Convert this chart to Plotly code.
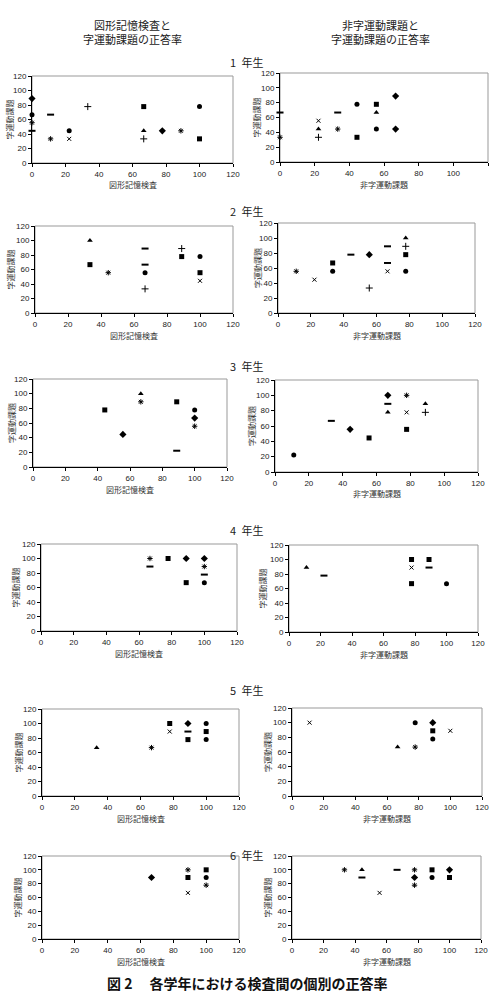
import plotly.graph_objects as go

W, H = 494, 1001

# ---- data: x = test score, y = 字運動課題 score, s = marker series label ----
g1_fig_x = [0, 0, 0, 0, 11.1, 11.1, 22.2, 22.2, 33.3, 66.7, 66.7, 66.7, 77.8, 88.9, 100, 100]
g1_fig_y = [88.9, 66.7, 55.6, 44.4, 66.7, 33.3, 44.4, 33.3, 77.8, 77.8, 44.4, 33.3, 44.4, 44.4, 77.8, 33.3]
g1_fig_s = ["◆", "●", "＊", "－", "－", "＊", "●", "×", "+", "■", "▲", "+", "◆", "＊", "●", "■"]

g1_non_x = [0, 0, 22.2, 22.2, 22.2, 33.3, 33.3, 44.4, 44.4, 55.6, 55.6, 55.6, 66.7, 66.7]
g1_non_y = [66.7, 33.3, 55.6, 44.4, 33.3, 66.7, 44.4, 77.8, 33.3, 77.8, 66.7, 44.4, 88.9, 44.4]
g1_non_s = ["－", "＊", "×", "▲", "+", "－", "＊", "●", "■", "■", "▲", "●", "◆", "◆"]

g2_fig_x = [33.3, 33.3, 44.4, 66.7, 66.7, 66.7, 66.7, 88.9, 88.9, 100, 100, 100]
g2_fig_y = [100, 66.7, 55.6, 88.9, 66.7, 55.6, 33.3, 88.9, 77.8, 77.8, 55.6, 44.4]
g2_fig_s = ["▲", "■", "＊", "－", "－", "●", "+", "+", "■", "●", "■", "×"]

g2_non_x = [11.1, 22.2, 33.3, 33.3, 44.4, 55.6, 55.6, 66.7, 66.7, 66.7, 77.8, 77.8, 77.8, 77.8]
g2_non_y = [55.6, 44.4, 66.7, 55.6, 77.8, 77.8, 33.3, 88.9, 66.7, 55.6, 100, 88.9, 77.8, 55.6]
g2_non_s = ["＊", "×", "■", "●", "－", "◆", "+", "－", "－", "×", "▲", "+", "■", "●"]

g3_fig_x = [44.4, 55.6, 66.7, 66.7, 88.9, 88.9, 100, 100, 100]
g3_fig_y = [77.8, 44.4, 100, 88.9, 88.9, 22.2, 77.8, 66.7, 55.6]
g3_fig_s = ["■", "◆", "▲", "＊", "■", "－", "●", "◆", "＊"]

g3_non_x = [11.1, 33.3, 44.4, 55.6, 66.7, 66.7, 66.7, 77.8, 77.8, 77.8, 88.9, 88.9]
g3_non_y = [22.2, 66.7, 55.6, 44.4, 100, 88.9, 77.8, 100, 77.8, 55.6, 88.9, 77.8]
g3_non_s = ["●", "－", "◆", "■", "◆", "－", "▲", "＊", "×", "■", "▲", "+"]

g4_fig_x = [66.7, 66.7, 77.8, 88.9, 88.9, 100, 100, 100, 100]
g4_fig_y = [100, 88.9, 100, 100, 66.7, 100, 88.9, 77.8, 66.7]
g4_fig_s = ["＊", "－", "■", "◆", "■", "◆", "＊", "－", "●"]

g4_non_x = [11.1, 22.2, 77.8, 77.8, 77.8, 88.9, 88.9, 100]
g4_non_y = [88.9, 77.8, 100, 88.9, 66.7, 100, 88.9, 66.7]
g4_non_s = ["▲", "－", "■", "×", "■", "■", "－", "●"]

g5_fig_x = [33.3, 66.7, 77.8, 77.8, 88.9, 88.9, 88.9, 100, 100, 100]
g5_fig_y = [66.7, 66.7, 100, 88.9, 100, 88.9, 77.8, 100, 88.9, 77.8]
g5_fig_s = ["▲", "＊", "■", "×", "◆", "－", "■", "●", "■", "●"]

g5_non_x = [11.1, 66.7, 77.8, 77.8, 88.9, 88.9, 88.9, 100]
g5_non_y = [100, 66.7, 100, 66.7, 100, 88.9, 77.8, 88.9]
g5_non_s = ["×", "▲", "●", "＊", "◆", "■", "●", "×"]

g6_fig_x = [66.7, 88.9, 88.9, 88.9, 100, 100, 100]
g6_fig_y = [88.9, 100, 88.9, 66.7, 100, 88.9, 77.8]
g6_fig_s = ["◆", "＊", "■", "×", "■", "●", "＊"]

g6_non_x = [33.3, 44.4, 44.4, 55.6, 66.7, 77.8, 77.8, 77.8, 88.9, 88.9, 100, 100]
g6_non_y = [100, 100, 88.9, 66.7, 100, 100, 88.9, 77.8, 100, 88.9, 100, 88.9]
g6_non_s = ["＊", "▲", "－", "×", "－", "＊", "◆", "＊", "■", "●", "◆", "■"]

grade_labels = ["1 年生", "2 年生", "3 年生", "4 年生", "5 年生", "6 年生"]
x_title_left = "図形記憶検査"
x_title_right = "非字運動課題"
y_title = "字運動課題"
col_titles = ["図形記憶検査と<br>字運動課題の正答率", "非字運動課題と<br>字運動課題の正答率"]
caption = "図 2　 各学年における検査間の個別の正答率"
axis_ticks = [0, 20, 40, 60, 80, 100, 120]

panels = [
    (g1_fig_x, g1_fig_y, g1_fig_s), (g1_non_x, g1_non_y, g1_non_s),
    (g2_fig_x, g2_fig_y, g2_fig_s), (g2_non_x, g2_non_y, g2_non_s),
    (g3_fig_x, g3_fig_y, g3_fig_s), (g3_non_x, g3_non_y, g3_non_s),
    (g4_fig_x, g4_fig_y, g4_fig_s), (g4_non_x, g4_non_y, g4_non_s),
    (g5_fig_x, g5_fig_y, g5_fig_s), (g5_non_x, g5_non_y, g5_non_s),
    (g6_fig_x, g6_fig_y, g6_fig_s), (g6_non_x, g6_non_y, g6_non_s),
]

# ---- layout (pixel boxes of plot areas) ----
boxes = [
    (32, 233, 76, 163), (280, 488, 73, 162),
    (35, 233, 226, 313), (278, 475, 223, 313),
    (33, 227, 379, 467), (275, 478, 380, 472),
    (41, 237, 544, 631), (289, 478, 545, 632),
    (42, 239, 709, 796), (292, 482, 708, 796),
    (42, 239, 856, 939), (292, 481, 856, 939),
]
ytitle_px = [9, 256, 10, 257, 11, 251, 15, 262, 18, 267, 17, 267]
grade_y = [62, 211, 366, 530, 690, 855]

style = {
    "◆": dict(symbol="diamond", size=5.5),
    "■": dict(symbol="square", size=5),
    "▲": dict(symbol="triangle-up", size=5),
    "●": dict(symbol="circle", size=5),
    "×": dict(symbol="x-thin-open", size=4, line=dict(width=1, color="black")),
    "＊": dict(symbol="asterisk-open", size=4.5, line=dict(width=1, color="black")),
    "+": dict(symbol="cross-thin-open", size=5, line=dict(width=1, color="black")),
    "－": dict(symbol="line-ew-open", size=5, line=dict(width=2, color="black")),
}

fig = go.Figure()
TF = dict(family="Liberation Sans, Arial", size=8, color="#222")
CJK = "Noto Sans CJK JP"

def px2x(p):
    return p / W

def px2y(p):
    return 1 - p / H

annotations = []
shapes = []
for i, ((xs, ys, ss), (x0, x1, y0, y1)) in enumerate(zip(panels, boxes)):
    n = i + 1
    xa = "x" if n == 1 else f"x{n}"
    ya = "y" if n == 1 else f"y{n}"
    for key in style:
        px_ = [x for x, s in zip(xs, ss) if s == key]
        py_ = [y for y, s in zip(ys, ss) if s == key]
        if not px_:
            continue
        m = dict(color="black")
        m.update(style[key])
        fig.add_trace(go.Scatter(x=px_, y=py_, mode="markers", marker=m,
                                 xaxis=xa, yaxis=ya, showlegend=False, cliponaxis=False))
    ax = dict(domain=[px2x(x0), px2x(x1)], range=[0, 120], tickvals=axis_ticks,
              showgrid=False, zeroline=False, showline=True, linecolor="black", linewidth=1,
              ticks="outside", ticklen=3, tickcolor="black", tickfont=TF, automargin=False,
              fixedrange=True)
    ay = dict(domain=[px2y(y1), px2y(y0)], range=[0, 120], tickvals=axis_ticks,
              showgrid=False, zeroline=False, showline=True, linecolor="black", linewidth=1,
              ticks="outside", ticklen=3, tickcolor="black", tickfont=TF, automargin=False,
              fixedrange=True)
    ax["anchor"] = ya
    ay["anchor"] = xa
    fig.update_layout(**{("xaxis" if n == 1 else f"xaxis{n}"): ax,
                         ("yaxis" if n == 1 else f"yaxis{n}"): ay})
    shapes.append(dict(type="rect", xref="paper", yref="paper",
                       x0=px2x(x0), x1=px2x(x1), y0=px2y(y1), y1=px2y(y0),
                       line=dict(color="#999", width=1), layer="below"))
    # axis titles
    xt = x_title_left if i % 2 == 0 else x_title_right
    annotations.append(dict(text=xt, x=px2x((x0 + x1) / 2), y=px2y(y1 + 22),
                            xref="paper", yref="paper", showarrow=False,
                            font=dict(family=CJK, size=8, color="#333"),
                            xanchor="center", yanchor="middle"))
    annotations.append(dict(text=y_title, x=px2x(ytitle_px[i]), y=px2y((y0 + y1) / 2),
                            xref="paper", yref="paper", showarrow=False, textangle=-90,
                            font=dict(family=CJK, size=8, color="#333"),
                            xanchor="center", yanchor="middle"))

for g, gy in zip(grade_labels, grade_y):
    annotations.append(dict(text=g.replace(" ", "\u2002"), x=px2x(247), y=px2y(gy),
                            xref="paper", yref="paper",
                            showarrow=False, font=dict(family=CJK, size=11, color="#222"),
                            xanchor="center", yanchor="middle"))

annotations.append(dict(text=col_titles[0], x=px2x(132), y=px2y(32), xref="paper", yref="paper",
                        showarrow=False, font=dict(family=CJK, size=11, color="#222"),
                        xanchor="center", yanchor="middle"))
annotations.append(dict(text=col_titles[1], x=px2x(380), y=px2y(32), xref="paper", yref="paper",
                        showarrow=False, font=dict(family=CJK, size=11, color="#222"),
                        xanchor="center", yanchor="middle"))
annotations.append(dict(text="<b>" + caption + "</b>", x=px2x(247), y=px2y(983), xref="paper",
                        yref="paper", showarrow=False,
                        font=dict(family=CJK, size=14, color="#111"),
                        xanchor="center", yanchor="middle"))

fig.update_layout(width=W, height=H, margin=dict(l=0, r=0, t=0, b=0),
                  paper_bgcolor="white", plot_bgcolor="white",
                  annotations=annotations, shapes=shapes, showlegend=False)

fig.write_html("out.html")
